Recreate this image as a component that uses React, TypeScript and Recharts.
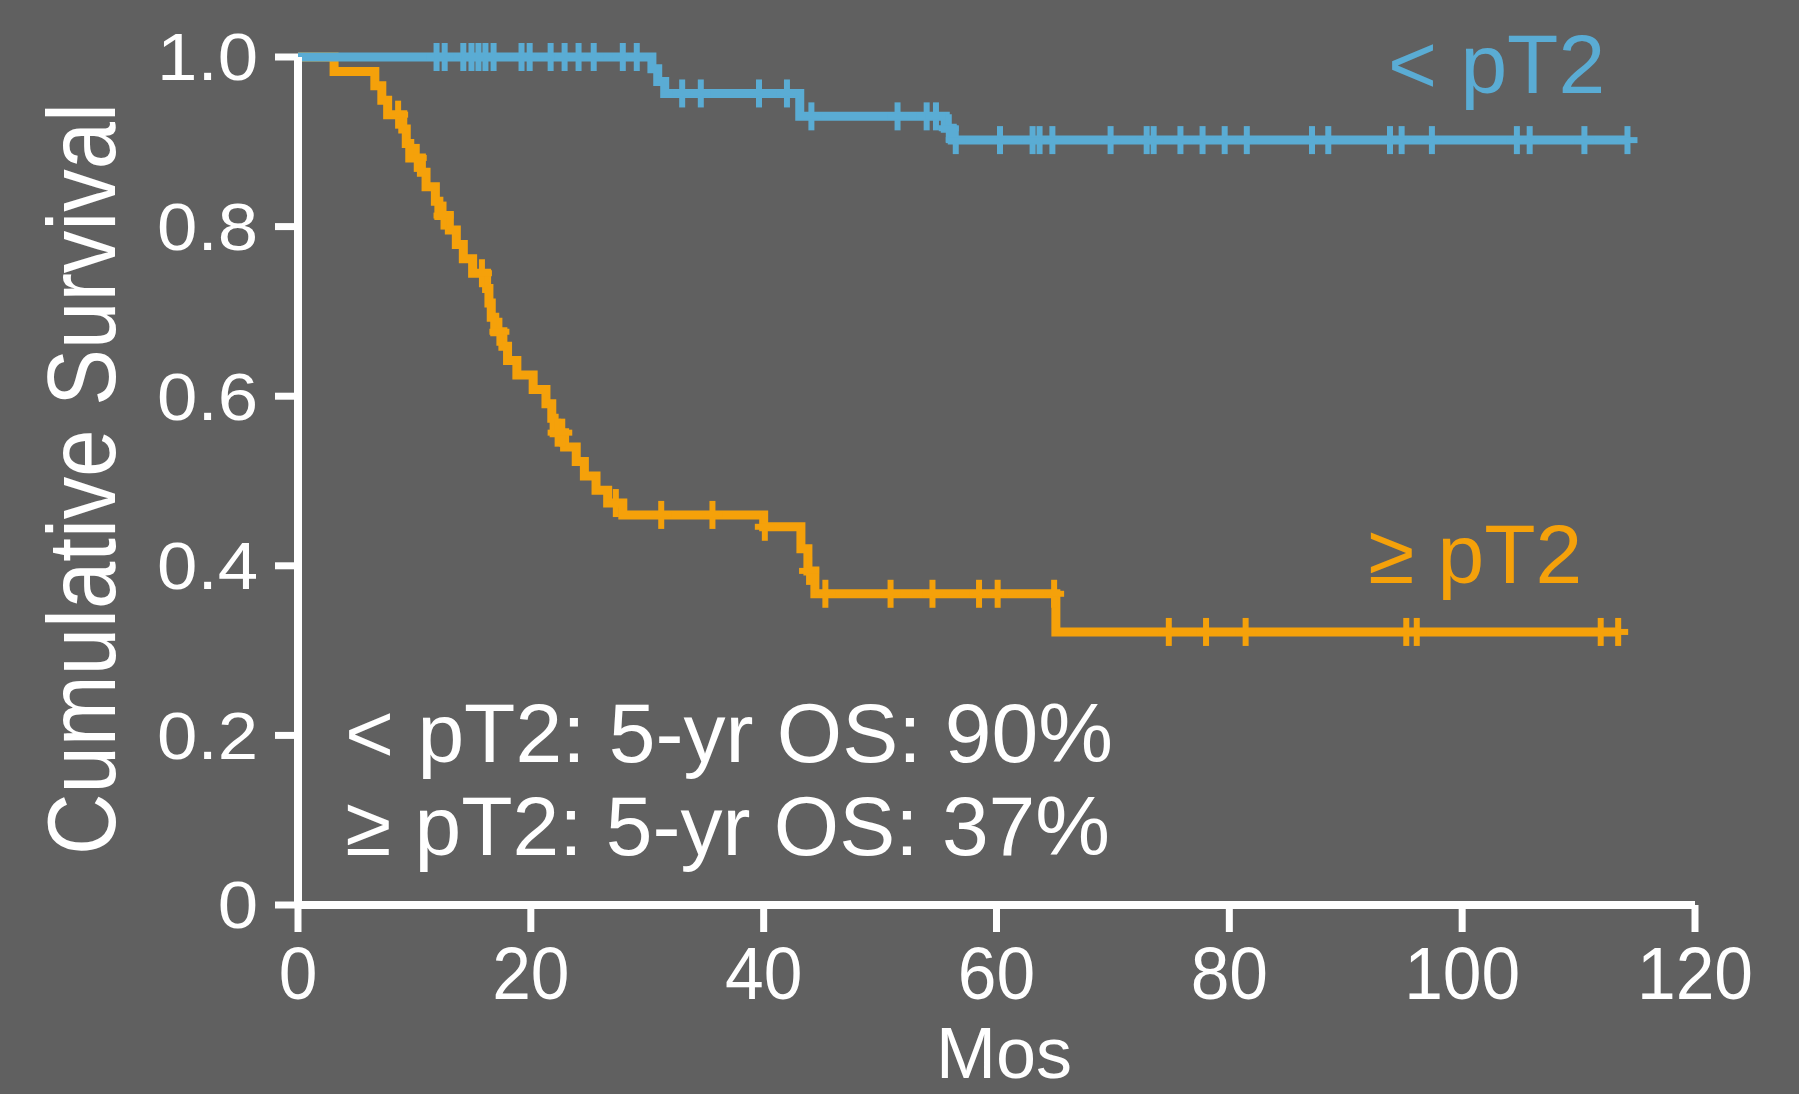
import React from "react";
import { LineChart, Line, XAxis, YAxis } from "recharts";

const FONT = '"Liberation Sans", Arial, Helvetica, sans-serif';
const BLUE = "#5aacd4";
const ORANGE = "#f5a10a";
const BG = "#606060";

// < pT2 group: event times (months) with survival after each event, and censored times
const blueEventTimes = [30.4, 30.9, 31.5, 43.1, 55.6, 56.2];
const blueEventSurv = [0.986, 0.971, 0.957, 0.93, 0.916, 0.902];
const blueCensorTimes = [
  11.9, 12.6, 14.2, 14.9, 15.5, 16.1, 16.8, 19.2, 19.9, 21.7, 22.9, 24.1, 25.4,
  27.9, 29.1, 33.0, 34.6, 39.6, 42.0, 44.1, 51.5, 54.0, 54.8, 55.9, 56.5, 60.3,
  63.1, 63.7, 64.8, 69.8, 72.9, 73.5, 75.8, 77.7, 79.6, 81.5, 87.1, 88.5, 93.8,
  94.8, 97.4, 104.7, 105.8, 110.5, 114.2,
];

// >= pT2 group
const orangeEventTimes = [
  3.1, 6.6, 7.2, 7.7, 9.0, 9.3, 9.6, 10.6, 11.0, 11.8, 12.1, 13.0, 13.6, 14.2,
  15.0, 16.2, 16.4, 16.6, 16.9, 17.6, 18.0, 18.8, 20.2, 21.3, 21.8, 22.0, 22.9,
  23.9, 24.6, 25.6, 26.6, 27.9, 40.0, 43.2, 43.8, 44.4, 65.1,
];
const orangeEventSurv = [
  0.983, 0.966, 0.949, 0.932, 0.915, 0.898, 0.881, 0.864, 0.847, 0.83, 0.813,
  0.796, 0.779, 0.762, 0.745, 0.727, 0.71, 0.693, 0.676, 0.659, 0.642, 0.625,
  0.608, 0.591, 0.574, 0.557, 0.54, 0.523, 0.506, 0.489, 0.474, 0.46, 0.446,
  0.42, 0.394, 0.367, 0.322,
];
const orangeCensorTimes = [
  8.6, 10.2, 12.5, 15.8, 17.3, 22.3, 22.7, 27.3, 31.2, 35.6, 40.1, 43.9, 45.3,
  50.9, 54.5, 58.5, 60.1, 64.95, 74.8, 78.0, 81.4, 95.2, 96.1, 111.9, 113.4,
];

const xTicks = [0, 20, 40, 60, 80, 100, 120];
const yTicks = [0, 0.2, 0.4, 0.6, 0.8, 1.0];
const yTickLabels = ["0", "0.2", "0.4", "0.6", "0.8", "1.0"];

type Pt = { t: number; s: number; censored: boolean };

function buildCurve(times: number[], surv: number[], censors: number[]): Pt[] {
  const marks = [
    ...times.map((t, i) => ({ t, s: surv[i], censored: false })),
    ...censors.map((t) => ({ t, s: 0, censored: true })),
  ].sort((a, b) => a.t - b.t);
  const pts: Pt[] = [{ t: 0, s: 1, censored: false }];
  let level = 1;
  for (const m of marks) {
    if (!m.censored) level = m.s;
    pts.push({ t: m.t, s: level, censored: m.censored });
  }
  return pts;
}

const blueCurve = buildCurve(blueEventTimes, blueEventSurv, blueCensorTimes);
const orangeCurve = buildCurve(orangeEventTimes, orangeEventSurv, orangeCensorTimes);

// SPSS-style "+" censor marks
const plusDot = (color: string) => (props: any) => {
  const { cx, cy, payload, index } = props;
  if (!payload || !payload.censored) return <g key={`n-${index}`} />;
  return (
    <g key={`c-${index}`}>
      <line x1={cx} x2={cx} y1={cy - 14} y2={cy + 14} stroke={color} strokeWidth={6} />
      <line x1={cx - 10} x2={cx + 10} y1={cy} y2={cy} stroke={color} strokeWidth={6} />
    </g>
  );
};

const XTick = (props: any) => {
  const { x, y, payload } = props;
  return (
    <text
      transform={`translate(${x},${y}) scale(0.94,1)`}
      textAnchor="middle"
      dy="0.71em"
      fill="#fff"
      fontSize={74}
      fontFamily={FONT}
    >
      {payload.value}
    </text>
  );
};

const YTick = (props: any) => {
  const { x, y, payload } = props;
  const label = yTickLabels[yTicks.indexOf(payload.value)] ?? String(payload.value);
  return (
    <text
      transform={`translate(${x},${y}) scale(1.1,1)`}
      textAnchor="end"
      dy="0.355em"
      fill="#fff"
      fontSize={66}
      fontFamily={FONT}
    >
      {label}
    </text>
  );
};

export default function App() {
  return (
    <div
      style={{
        position: "fixed",
        left: 0,
        top: 0,
        width: 1799,
        height: 1094,
        background: BG,
        overflow: "hidden",
      }}
    >
      <LineChart
        width={1799}
        height={1094}
        margin={{ top: 57, right: 104, bottom: 89, left: 198 }}
      >
        <XAxis
          dataKey="t"
          type="number"
          domain={[0, 120]}
          ticks={xTicks}
          interval={0}
          height={100}
          axisLine={{ stroke: "#fff", strokeWidth: 8 }}
          tickLine={{ stroke: "#fff", strokeWidth: 7 }}
          tickSize={27}
          tickMargin={14}
          tick={<XTick />}
        />
        <YAxis
          type="number"
          domain={[0, 1]}
          ticks={yTicks}
          interval={0}
          width={100}
          axisLine={{ stroke: "#fff", strokeWidth: 8 }}
          tickLine={{ stroke: "#fff", strokeWidth: 7 }}
          tickSize={23}
          tickMargin={17}
          tick={<YTick />}
        />
        <Line
          data={orangeCurve}
          dataKey="s"
          type="stepAfter"
          stroke={ORANGE}
          strokeWidth={9}
          dot={plusDot(ORANGE)}
          activeDot={false}
          isAnimationActive={false}
        />
        <Line
          data={blueCurve}
          dataKey="s"
          type="stepAfter"
          stroke={BLUE}
          strokeWidth={9}
          dot={plusDot(BLUE)}
          activeDot={false}
          isAnimationActive={false}
        />
        <text
          transform="translate(115,479) rotate(-90)"
          textAnchor="middle"
          fill="#fff"
          fontSize={96}
          fontFamily={FONT}
          textLength={752}
          lengthAdjust="spacingAndGlyphs"
        >
          Cumulative Survival
        </text>
        <text x={1004} y={1078} textAnchor="middle" fill="#fff" fontSize={72} fontFamily={FONT}>
          Mos
        </text>
        <text x={1388} y={93} fill={BLUE} fontSize={84} fontFamily={FONT}>
          {"< pT2"}
        </text>
        <text x={1368} y={583} fill={ORANGE} fontSize={84} fontFamily={FONT}>
          {"≥ pT2"}
        </text>
        <text x={345} y={762} fill="#fff" fontSize={84} fontFamily={FONT}>
          {"< pT2: 5-yr OS: 90%"}
        </text>
        <text x={345} y={855} fill="#fff" fontSize={84} fontFamily={FONT}>
          {"≥ pT2: 5-yr OS: 37%"}
        </text>
      </LineChart>
    </div>
  );
}
